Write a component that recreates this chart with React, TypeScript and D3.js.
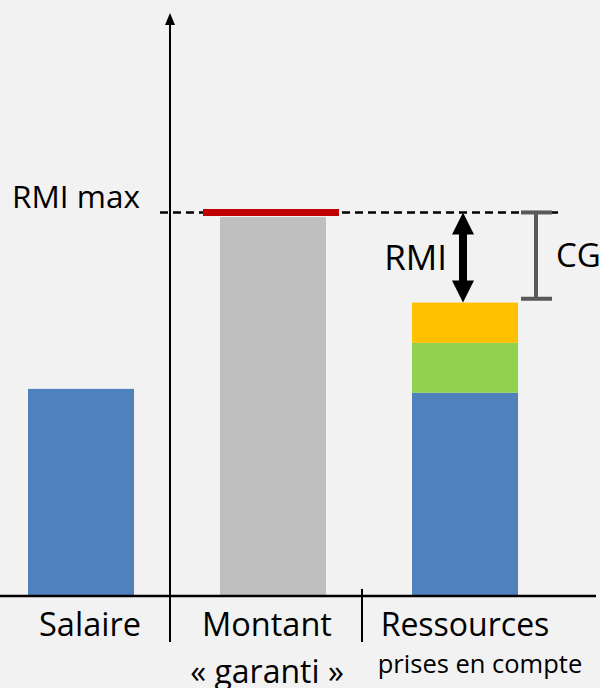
import * as d3 from "d3";

const categories = ["Salaire", "Montant", "Ressources"];
const labelLines = [["Salaire"], ["Montant", "« garanti »"], ["Ressources", "prises en compte"]];
const salaire = [54];
const garanti = [98.8];
const rmiMax = 100;
const ressourceParts = ["salaire", "autres", "complement"];
const ressourceValues = [53, 13, 10.5];
const ressourceColors = ["#4f81bd", "#92d050", "#ffc000"];
const cgLow = 77.5;

const W = 600;
const H = 688;
const font = "'Open Sans', sans-serif";

export default function App() {
  const x = d3.scaleBand().domain(categories).range([-22, 554]).padding(0);
  const y = d3.scaleLinear().domain([0, 152]).range([596, 13]);
  const barW = 106;
  const barX = (c) => x(c) + 50;

  // stack for the third bar
  let acc = 0;
  const stack = ressourceValues.map((v, i) => {
    const s = { key: ressourceParts[i], y0: acc, y1: acc + v, color: ressourceColors[i] };
    acc += v;
    return s;
  });
  const total = acc;

  const axisX = x("Montant");
  const div2 = x("Ressources");
  const rmiX = barX("Ressources") + barW / 2 - 2;
  const cgX = 536;

  // double arrow between RMI max and total resources
  const top = y(rmiMax);
  const bot = y(total);
  const hw = 11, sw = 4, hh = 22;
  const arrow = `M${rmiX},${top} L${rmiX + hw},${top + hh} L${rmiX + sw},${top + hh} L${rmiX + sw},${bot - hh} L${rmiX + hw},${bot - hh} L${rmiX},${bot} L${rmiX - hw},${bot - hh} L${rmiX - sw},${bot - hh} L${rmiX - sw},${top + hh} L${rmiX - hw},${top + hh} Z`;

  return (
    <svg width={W} height={H} style={{ position: "absolute", left: 0, top: 0, background: "#f2f2f2" }}>
      <rect width={W} height={H} fill="#f2f2f2" />
      {/* bars */}
      <rect x={barX("Salaire")} y={y(salaire[0])} width={barW} height={y(0) - y(salaire[0])} fill="#4f81bd" />
      <rect x={barX("Montant")} y={y(garanti[0])} width={barW} height={y(0) - y(garanti[0])} fill="#bfbfbf" />
      {stack.map((s) => (
        <rect key={s.key} x={barX("Ressources")} y={y(s.y1)} width={barW} height={y(s.y0) - y(s.y1)} fill={s.color} />
      ))}

      {/* RMI max dashed level */}
      <line x1={160} x2={558} y1={y(rmiMax)} y2={y(rmiMax)} stroke="#000" strokeWidth={2.5} strokeDasharray="8,5" />
      <line x1={barX("Montant") - 17} x2={barX("Montant") + barW + 13} y1={y(rmiMax)} y2={y(rmiMax)} stroke="#c00000" strokeWidth={7} />

      {/* axes */}
      <line x1={0} x2={596} y1={y(0)} y2={y(0)} stroke="#000" strokeWidth={2.5} />
      <line x1={axisX} x2={axisX} y1={y(0) + 46} y2={y(152) + 8} stroke="#000" strokeWidth={2} />
      <path d={`M${axisX},${y(152)} L${axisX - 5},${y(152) + 12} L${axisX + 5},${y(152) + 12} Z`} fill="#000" />
      <line x1={div2} x2={div2} y1={589} y2={642} stroke="#000" strokeWidth={2} />

      {/* RMI arrow */}
      <path d={arrow} fill="#000" />
      <text x={447} y={270} textAnchor="end" fontFamily={font} fontSize={35} fill="#000">RMI</text>

      {/* CG bracket */}
      <g stroke="#595959" strokeWidth={4}>
        <line x1={cgX} x2={cgX} y1={y(rmiMax)} y2={y(cgLow)} />
        <line x1={cgX - 15} x2={cgX + 16} y1={y(rmiMax)} y2={y(rmiMax)} />
        <line x1={cgX - 15} x2={cgX + 16} y1={y(cgLow)} y2={y(cgLow)} />
      </g>
      <text x={556} y={267} fontFamily={font} fontSize={33} fill="#000">CG</text>

      <text x={12} y={208} fontFamily={font} fontSize={31.5} fill="#000">RMI max</text>

      {/* category labels */}
      <text x={90} y={636} textAnchor="middle" fontFamily={font} fontSize={32.5} fill="#000">{labelLines[0][0]}</text>
      <text x={267} y={636} textAnchor="middle" fontFamily={font} fontSize={32.5} fill="#000">{labelLines[1][0]}</text>
      <text x={267} y={683} textAnchor="middle" fontFamily={font} fontSize={32} fill="#000">{labelLines[1][1]}</text>
      <text x={465} y={636} textAnchor="middle" fontFamily={font} fontSize={32} fill="#000">{labelLines[2][0]}</text>
      <text x={480} y={673} textAnchor="middle" fontFamily={font} fontSize={25.5} fill="#000">{labelLines[2][1]}</text>
    </svg>
  );
}
